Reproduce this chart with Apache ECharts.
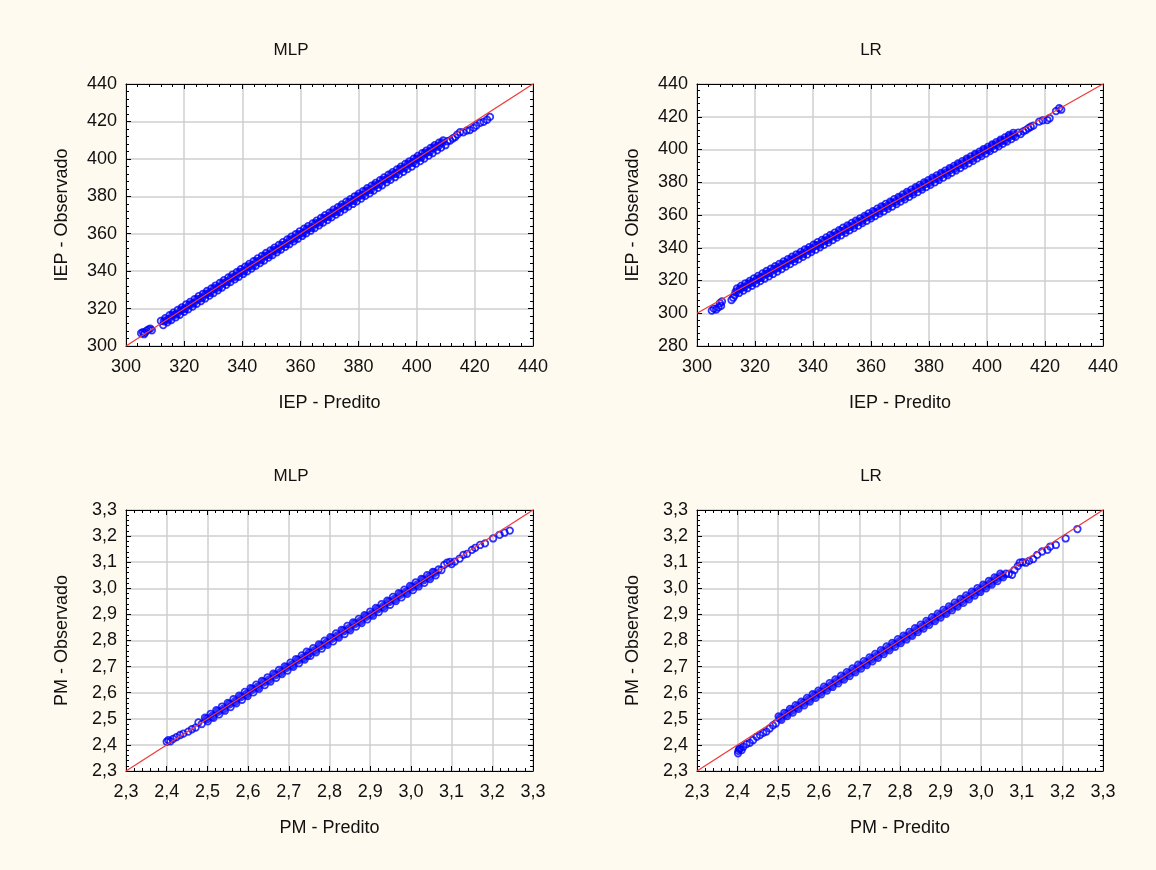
<!DOCTYPE html>
<html>
<head>
<meta charset="utf-8">
<script src="https://cdn.jsdelivr.net/npm/echarts@6/dist/echarts.min.js"></script>
<style>
  html, body { margin: 0; padding: 0; background: #fffaf0; }
  #chart { width: 1156px; height: 870px; }
</style>
</head>
<body>
<div id="chart"></div>
<script>
// [predito, observado] pairs
const mlpIep = [
  [305.2,306.8],[305.8,307.4],[306.5,307.0],[307.1,308.2],[307.8,308.9],[308.4,309.3],[308.9,308.4],[306.2,306.3],
  [312.0,313.4],[312.8,311.2],[313.5,314.9],[314.2,312.6],[315.0,316.5],[315.6,313.9],[316.3,317.8],[317.1,315.3],
  [317.8,319.3],[318.5,316.7],[319.2,320.6],[320.0,318.3],[320.7,322.2],[321.4,319.6],[322.1,323.6],[322.9,321.1],
  [323.6,325.0],[324.3,322.5],[325.0,326.6],[325.8,324.0],[326.5,327.9],[327.2,325.4],[327.9,329.4],[328.7,326.9],
  [329.4,330.8],[330.1,328.3],[330.8,332.3],[331.6,329.8],[332.3,333.7],[333.0,331.2],[333.7,335.2],[334.5,332.7],
  [335.2,336.6],[335.9,334.1],[336.6,338.1],[337.4,335.6],[338.1,339.5],[338.8,337.0],[339.5,341.0],[340.3,338.5],
  [341.0,342.4],[341.7,339.9],[342.4,343.9],[343.2,341.4],[343.9,345.3],[344.6,342.8],[345.3,346.8],[346.1,344.3],
  [346.8,348.2],[347.5,345.7],[348.2,349.7],[349.0,347.2],[349.7,351.1],[350.4,348.6],[351.1,352.6],[351.9,350.1],
  [352.6,354.0],[353.3,351.5],[354.0,355.5],[354.8,353.0],[355.5,356.9],[356.2,354.4],[356.9,358.4],[357.7,355.9],
  [358.4,359.8],[359.1,357.3],[359.8,361.3],[360.6,358.8],[361.3,362.7],[362.0,360.2],[362.7,364.1],[363.5,361.6],
  [364.2,365.5],[364.9,363.0],[365.6,367.0],[366.4,364.5],[367.1,368.4],[367.8,365.9],[368.5,369.9],[369.3,367.3],
  [370.0,371.3],[370.7,368.7],[371.4,372.8],[372.2,370.2],[372.9,374.2],[373.6,371.6],[374.3,375.6],[375.1,373.0],
  [375.8,377.1],[376.5,374.5],[377.2,378.5],[378.0,375.9],[378.7,380.0],[379.4,377.3],[380.1,381.4],[380.9,378.8],
  [381.6,382.8],[382.3,380.2],[383.0,384.3],[383.8,381.6],[384.5,385.7],[385.2,383.1],[385.9,387.2],[386.7,384.5],
  [387.4,388.6],[388.1,385.9],[388.8,390.1],[389.6,387.4],[390.3,391.5],[391.0,388.8],[391.7,392.9],[392.5,390.2],
  [393.2,394.4],[393.9,391.7],[394.6,395.8],[395.4,393.1],[396.1,397.3],[396.8,394.5],[397.5,398.7],[398.3,395.9],
  [399.0,400.1],[399.7,397.4],[400.4,401.6],[401.2,398.8],[401.9,403.0],[402.6,400.2],[403.3,404.4],[404.1,401.7],
  [404.8,405.9],[405.5,403.1],[406.2,407.3],[407.0,404.5],[407.7,408.7],[408.4,406.0],[409.1,409.9],[409.9,407.3],
  [410.6,409.4],[411.5,409.8],[412.4,410.9],[413.2,411.6],[414.0,413.0],[414.9,414.3],[416.0,414.2],[417.2,415.1],
  [418.3,415.4],[419.6,416.6],[420.5,417.8],[421.8,419.2],[423.0,419.8],[424.2,420.9],[425.2,422.4]
];
// densest core of the cloud, where the circles merge into a solid band
const mlpIepMid = [
  [313.1,313.3],[314.6,314.2],[316.0,316.4],[317.4,317.0],[318.9,319.2],[320.3,319.9],[321.8,322.0],[323.2,322.8],
  [324.6,325.0],[326.1,325.7],[327.5,327.8],[329.0,328.6],[330.4,330.7],[331.9,331.4],[333.3,333.6],[334.8,334.3],
  [336.2,336.5],[337.7,337.2],[339.1,339.4],[340.6,340.1],[342.0,342.3],[343.5,343.0],[344.9,345.2],[346.4,345.9],
  [347.8,348.1],[349.3,348.8],[350.7,351.0],[352.2,351.7],[353.6,353.9],[355.1,354.6],[356.5,356.8],[358.0,357.5],
  [359.4,359.6],[360.9,360.4],[362.3,362.5],[363.8,363.2],[365.2,365.4],[366.7,366.1],[368.1,368.3],[369.6,369.0],
  [371.0,371.2],[372.5,371.9],[373.9,374.1],[375.4,374.8],[376.8,377.0],[378.3,377.7],[379.7,379.9],[381.2,380.6],
  [382.6,382.8],[384.1,383.5],[385.5,385.7],[387.0,386.4],[388.4,388.6],[389.9,389.3],[391.3,391.5],[392.8,392.2],
  [394.2,394.4],[395.7,395.1],[397.1,397.3],[398.6,398.0],[400.0,400.1],[401.5,400.9],[402.9,403.0],[404.4,403.8],
  [405.8,405.9],[407.3,406.7],[408.7,408.6]
];

const lrIep = [
  [305.1,301.6],[305.8,302.8],[306.6,302.3],[307.4,303.6],[307.9,306.1],[308.3,304.5],[308.6,307.2],[311.9,308.1],
  [312.5,309.5],[313.0,311.0],[313.8,315.1],[314.5,312.4],[315.2,316.7],[316.0,313.9],[316.7,318.3],[317.4,315.3],
  [318.2,319.8],[318.9,316.8],[319.6,321.3],[320.4,318.2],[321.1,322.8],[321.8,319.6],[322.6,324.3],[323.3,321.1],
  [324.0,325.8],[324.8,322.5],[325.5,327.2],[326.2,324.0],[327.0,328.7],[327.7,325.5],[328.4,330.1],[329.2,327.0],
  [329.9,331.6],[330.6,328.5],[331.4,333.1],[332.1,330.0],[332.8,334.5],[333.6,331.5],[334.3,336.0],[335.0,332.9],
  [335.8,337.5],[336.5,334.4],[337.2,339.0],[338.0,335.9],[338.7,340.4],[339.4,337.4],[340.2,341.9],[340.9,338.8],
  [341.6,343.4],[342.4,340.3],[343.1,344.8],[343.8,341.8],[344.6,346.3],[345.3,343.2],[346.0,347.8],[346.8,344.7],
  [347.5,349.2],[348.2,346.2],[349.0,350.7],[349.7,347.6],[350.4,352.2],[351.2,349.1],[351.9,353.6],[352.6,350.6],
  [353.4,355.1],[354.1,352.0],[354.8,356.6],[355.6,353.5],[356.3,358.0],[357.0,355.0],[357.8,359.5],[358.5,356.4],
  [359.2,361.0],[360.0,357.9],[360.7,362.4],[361.4,359.4],[362.2,363.9],[362.9,360.8],[363.6,365.3],[364.4,362.3],
  [365.1,366.8],[365.8,363.8],[366.6,368.2],[367.3,365.2],[368.0,369.7],[368.8,366.7],[369.5,371.1],[370.2,368.2],
  [371.0,372.6],[371.7,369.6],[372.4,374.1],[373.2,371.1],[373.9,375.5],[374.6,372.6],[375.4,377.0],[376.1,374.0],
  [376.8,378.4],[377.6,375.5],[378.3,379.9],[379.0,377.0],[379.8,381.3],[380.5,378.4],[381.2,382.8],[382.0,379.9],
  [382.7,384.2],[383.4,381.4],[384.2,385.7],[384.9,382.8],[385.6,387.1],[386.4,384.3],[387.1,388.6],[387.8,385.8],
  [388.6,390.0],[389.3,387.2],[390.0,391.5],[390.8,388.7],[391.5,392.9],[392.2,390.2],[393.0,394.4],[393.7,391.6],
  [394.4,395.8],[395.2,393.1],[395.9,397.3],[396.6,394.6],[397.4,398.7],[398.1,396.0],[398.8,400.2],[399.6,397.5],
  [400.3,401.6],[401.0,399.0],[401.8,403.1],[402.5,400.4],[403.2,404.5],[404.0,401.9],[404.7,406.0],[405.4,403.4],
  [406.2,407.4],[406.9,404.8],[407.6,408.9],[408.4,406.3],[409.1,410.2],[409.8,407.7],[410.8,410.3],[411.6,409.4],
  [412.5,411.1],[413.4,411.8],[414.3,413.0],[415.1,413.9],[416.0,414.6],[418.0,417.0],[419.2,417.8],[420.8,418.0],
  [421.6,419.1],[423.8,423.4],[424.9,425.2],[425.6,424.3]
];
const lrIepMid = [
  [313.4,313.0],[314.9,315.0],[316.3,316.1],[317.8,318.0],[319.2,318.9],[320.7,320.9],[322.1,321.8],[323.6,323.9],
  [325.0,324.7],[326.5,326.8],[327.9,327.6],[329.4,329.7],[330.8,330.5],[332.3,332.6],[333.7,333.4],[335.2,335.5],
  [336.6,336.3],[338.1,338.4],[339.5,339.2],[341.0,341.3],[342.4,342.1],[343.9,344.2],[345.3,345.0],[346.8,347.1],
  [348.2,347.9],[349.7,350.0],[351.1,350.8],[352.6,352.9],[354.0,353.7],[355.5,355.8],[356.9,356.6],[358.4,358.7],
  [359.8,359.5],[361.3,361.6],[362.7,362.4],[364.2,364.5],[365.6,365.3],[367.1,367.4],[368.5,368.2],[370.0,370.3],
  [371.4,371.1],[372.9,373.2],[374.3,374.0],[375.8,376.1],[377.2,376.9],[378.7,379.0],[380.1,379.8],[381.6,381.9],
  [383.0,382.7],[384.5,384.8],[385.9,385.6],[387.4,387.7],[388.8,388.5],[390.3,390.6],[391.7,391.4],[393.2,393.5],
  [394.6,394.3],[396.1,396.4],[397.5,397.2],[399.0,399.3],[400.4,400.1],[401.9,402.2],[403.3,403.0],[404.8,405.0],
  [406.2,405.8],[407.7,407.9],[409.1,408.7]
];

const mlpPm = [
  [2.400,2.412],[2.404,2.418],[2.409,2.414],[2.416,2.423],[2.424,2.430],[2.433,2.438],[2.441,2.443],[2.453,2.451],
  [2.462,2.460],[2.471,2.466],[2.478,2.486],[2.486,2.480],[2.494,2.504],[2.501,2.490],[2.508,2.519],[2.515,2.504],
  [2.522,2.533],[2.529,2.517],[2.536,2.547],[2.543,2.531],[2.550,2.561],[2.557,2.545],[2.564,2.575],[2.571,2.559],
  [2.578,2.589],[2.585,2.573],[2.592,2.603],[2.599,2.587],[2.606,2.617],[2.613,2.601],[2.620,2.631],[2.627,2.615],
  [2.634,2.645],[2.641,2.629],[2.648,2.659],[2.655,2.643],[2.662,2.673],[2.669,2.657],[2.676,2.687],[2.683,2.671],
  [2.690,2.701],[2.697,2.685],[2.704,2.715],[2.711,2.699],[2.718,2.729],[2.725,2.713],[2.732,2.743],[2.739,2.727],
  [2.744,2.757],[2.746,2.741],[2.753,2.741],[2.760,2.771],[2.767,2.755],[2.774,2.785],[2.781,2.769],[2.788,2.799],
  [2.795,2.783],[2.802,2.813],[2.809,2.797],[2.816,2.827],[2.823,2.811],[2.830,2.841],[2.837,2.825],[2.844,2.856],
  [2.851,2.839],[2.858,2.869],[2.865,2.853],[2.872,2.883],[2.879,2.867],[2.886,2.897],[2.893,2.881],[2.900,2.911],
  [2.907,2.895],[2.914,2.925],[2.921,2.909],[2.928,2.939],[2.935,2.923],[2.942,2.953],[2.949,2.937],[2.956,2.967],
  [2.963,2.951],[2.970,2.981],[2.977,2.965],[2.984,2.995],[2.991,2.979],[2.998,3.009],[3.005,2.993],[3.012,3.023],
  [3.019,3.007],[3.026,3.036],[3.033,3.021],[3.040,3.050],[3.047,3.035],[3.054,3.063],[3.061,3.050],[3.068,3.072],
  [3.075,3.070],[3.082,3.090],[3.089,3.098],[3.096,3.101],[3.100,3.093],[3.108,3.102],[3.120,3.114],[3.129,3.128],
  [3.138,3.132],[3.150,3.147],[3.158,3.155],[3.170,3.166],[3.182,3.172],[3.202,3.191],[3.218,3.205],[3.230,3.213],
  [3.243,3.221]
];
const mlpPmMid = [
  [2.498,2.499],[2.512,2.510],[2.526,2.528],[2.540,2.538],[2.554,2.556],[2.568,2.566],[2.582,2.584],[2.596,2.594],
  [2.610,2.612],[2.624,2.622],[2.638,2.640],[2.652,2.650],[2.666,2.668],[2.680,2.678],[2.694,2.696],[2.708,2.706],
  [2.722,2.724],[2.736,2.734],[2.750,2.752],[2.764,2.762],[2.778,2.780],[2.792,2.790],[2.806,2.808],[2.820,2.818],
  [2.834,2.836],[2.848,2.846],[2.862,2.864],[2.876,2.874],[2.890,2.892],[2.904,2.902],[2.918,2.920],[2.932,2.930],
  [2.946,2.948],[2.960,2.958],[2.974,2.976],[2.988,2.986],[3.002,3.004],[3.016,3.014],[3.030,3.032],[3.044,3.042],
  [3.058,3.060]
];

const lrPm = [
  [2.401,2.368],[2.402,2.377],[2.404,2.384],[2.406,2.387],[2.410,2.380],[2.414,2.393],[2.422,2.403],[2.430,2.408],
  [2.438,2.418],[2.447,2.431],[2.455,2.438],[2.463,2.446],[2.471,2.451],[2.479,2.463],[2.487,2.475],[2.494,2.482],
  [2.501,2.509],[2.508,2.496],[2.515,2.523],[2.522,2.510],[2.529,2.538],[2.536,2.524],[2.543,2.552],[2.550,2.538],
  [2.557,2.566],[2.564,2.552],[2.571,2.580],[2.578,2.566],[2.585,2.594],[2.592,2.580],[2.599,2.608],[2.606,2.594],
  [2.613,2.623],[2.620,2.608],[2.627,2.637],[2.634,2.622],[2.641,2.651],[2.648,2.636],[2.655,2.665],[2.662,2.650],
  [2.669,2.679],[2.676,2.664],[2.683,2.693],[2.690,2.678],[2.697,2.707],[2.704,2.692],[2.711,2.721],[2.718,2.706],
  [2.725,2.735],[2.732,2.720],[2.739,2.749],[2.746,2.734],[2.753,2.763],[2.760,2.748],[2.767,2.777],[2.774,2.762],
  [2.781,2.791],[2.788,2.776],[2.795,2.805],[2.802,2.790],[2.809,2.819],[2.816,2.804],[2.823,2.833],[2.830,2.818],
  [2.837,2.847],[2.844,2.832],[2.851,2.861],[2.858,2.846],[2.865,2.875],[2.872,2.860],[2.879,2.889],[2.886,2.874],
  [2.893,2.903],[2.900,2.888],[2.907,2.917],[2.914,2.902],[2.921,2.931],[2.928,2.916],[2.935,2.945],[2.942,2.930],
  [2.949,2.959],[2.956,2.944],[2.963,2.973],[2.970,2.958],[2.977,2.987],[2.984,2.972],[2.991,3.001],[2.998,2.986],
  [3.005,3.014],[3.012,3.000],[3.019,3.028],[3.026,3.014],[3.033,3.042],[3.040,3.028],[3.047,3.056],[3.054,3.042],
  [3.061,3.056],[3.068,3.055],[3.076,3.052],[3.082,3.070],[3.090,3.085],[3.095,3.098],[3.102,3.100],[3.110,3.098],
  [3.118,3.105],[3.128,3.112],[3.138,3.128],[3.150,3.141],[3.163,3.147],[3.170,3.160],[3.184,3.166],[3.208,3.191],
  [3.237,3.227]
];
const lrPmMid = [
  [2.505,2.503],[2.519,2.517],[2.533,2.532],[2.547,2.545],[2.561,2.560],[2.575,2.573],[2.589,2.588],[2.603,2.601],
  [2.617,2.616],[2.631,2.629],[2.645,2.644],[2.659,2.657],[2.673,2.672],[2.687,2.685],[2.701,2.700],[2.715,2.713],
  [2.729,2.728],[2.743,2.741],[2.757,2.756],[2.771,2.769],[2.785,2.784],[2.799,2.797],[2.813,2.812],[2.827,2.825],
  [2.841,2.840],[2.855,2.853],[2.869,2.868],[2.883,2.881],[2.897,2.896],[2.911,2.909],[2.925,2.924],[2.939,2.937],
  [2.953,2.952],[2.967,2.965],[2.981,2.980],[2.995,2.993],[3.009,3.008],[3.023,3.021],[3.037,3.036],[3.051,3.049]
];

const titles = ['MLP', 'LR', 'MLP', 'LR'];
const xNames = ['IEP - Predito', 'IEP - Predito', 'PM - Predito', 'PM - Predito'];
const yNames = ['IEP - Observado', 'IEP - Observado', 'PM - Observado', 'PM - Observado'];
const xRanges = [[300, 440, 20], [300, 440, 20], [2.3, 3.3, 0.1], [2.3, 3.3, 0.1]];
const yRanges = [[300, 440, 20], [280, 440, 20], [2.3, 3.3, 0.1], [2.3, 3.3, 0.1]];
const diagonals = [[[300,300],[440,440]], [[300,300],[440,440]], [[2.3,2.3],[3.3,3.3]], [[2.3,2.3],[3.3,3.3]]];
const panelData = [mlpIep, lrIep, mlpPm, lrPm];
const panelCore = [mlpIepMid, lrIepMid, mlpPmMid, lrPmMid];

const font = 'Liberation Sans, Arial, sans-serif';
const grids = [
  {left: 126, top: 84, width: 407, height: 262},
  {left: 697, top: 84, width: 406, height: 262},
  {left: 126, top: 510, width: 407, height: 261},
  {left: 697, top: 510, width: 406, height: 261}
];
const titlePos = [[291, 42], [871, 42], [291, 468], [871, 468]];

const fmtIep = v => String(Math.round(v));
const fmtPm = v => v.toFixed(1).replace('.', ',');

function axis(i, pos, range, name, fmt, labelled) {
  const isX = pos === 'bottom' || pos === 'top';
  return {
    type: 'value', gridIndex: i, position: pos,
    min: range[0], max: range[1], interval: range[2],
    axisLine: {show: true, onZero: false, lineStyle: {color: '#000', width: 1}},
    axisTick: {show: true, inside: true, length: 5, lineStyle: {color: '#000'}},
    minorTick: {show: true, splitNumber: 5, length: 3, lineStyle: {color: '#000'}},
    axisLabel: {show: labelled, color: '#111', fontSize: 18, fontFamily: font,
      margin: isX ? 12 : 9, formatter: fmt},
    splitLine: {show: labelled, lineStyle: {color: '#cfcfcf', width: 1.5}},
    name: labelled ? name : '',
    nameLocation: 'middle',
    nameGap: isX ? 48 : 55,
    nameTextStyle: {color: '#111', fontSize: 18, fontFamily: font}
  };
}

const xAxis = [], yAxis = [], series = [], title = [];
for (let i = 0; i < 4; i++) {
  const fmt = i < 2 ? fmtIep : fmtPm;
  xAxis.push(axis(i, 'bottom', xRanges[i], xNames[i], fmt, true));
  xAxis.push(axis(i, 'top', xRanges[i], '', fmt, false));
  yAxis.push(axis(i, 'left', yRanges[i], yNames[i], fmt, true));
  yAxis.push(axis(i, 'right', yRanges[i], '', fmt, false));
  series.push({
    type: 'scatter', xAxisIndex: 2 * i, yAxisIndex: 2 * i,
    data: panelCore[i], symbol: 'circle', symbolSize: 9,
    itemStyle: {color: '#0000ff', borderWidth: 0}
  });
  series.push({
    type: 'scatter', xAxisIndex: 2 * i, yAxisIndex: 2 * i,
    data: panelData[i], symbol: 'circle', symbolSize: 6.5,
    itemStyle: {color: 'rgba(0,0,0,0)', borderColor: '#0000ff', borderWidth: 1.8}
  });
  series.push({
    type: 'line', xAxisIndex: 2 * i, yAxisIndex: 2 * i,
    data: diagonals[i], symbol: 'none',
    lineStyle: {color: '#f03a3a', width: 1.3}
  });
  title.push({
    text: titles[i], left: titlePos[i][0], top: titlePos[i][1], textAlign: 'center', padding: 0,
    textStyle: {color: '#111', fontSize: 17, fontWeight: 'normal', fontFamily: font}
  });
}

const chart = echarts.init(document.getElementById('chart'));
chart.setOption({
  backgroundColor: '#fffaf0',
  animation: false,
  title: title,
  grid: grids.map(g => Object.assign({show: true, backgroundColor: '#fff', borderWidth: 0}, g)),
  xAxis: xAxis,
  yAxis: yAxis,
  series: series
});
</script>
</body>
</html>
